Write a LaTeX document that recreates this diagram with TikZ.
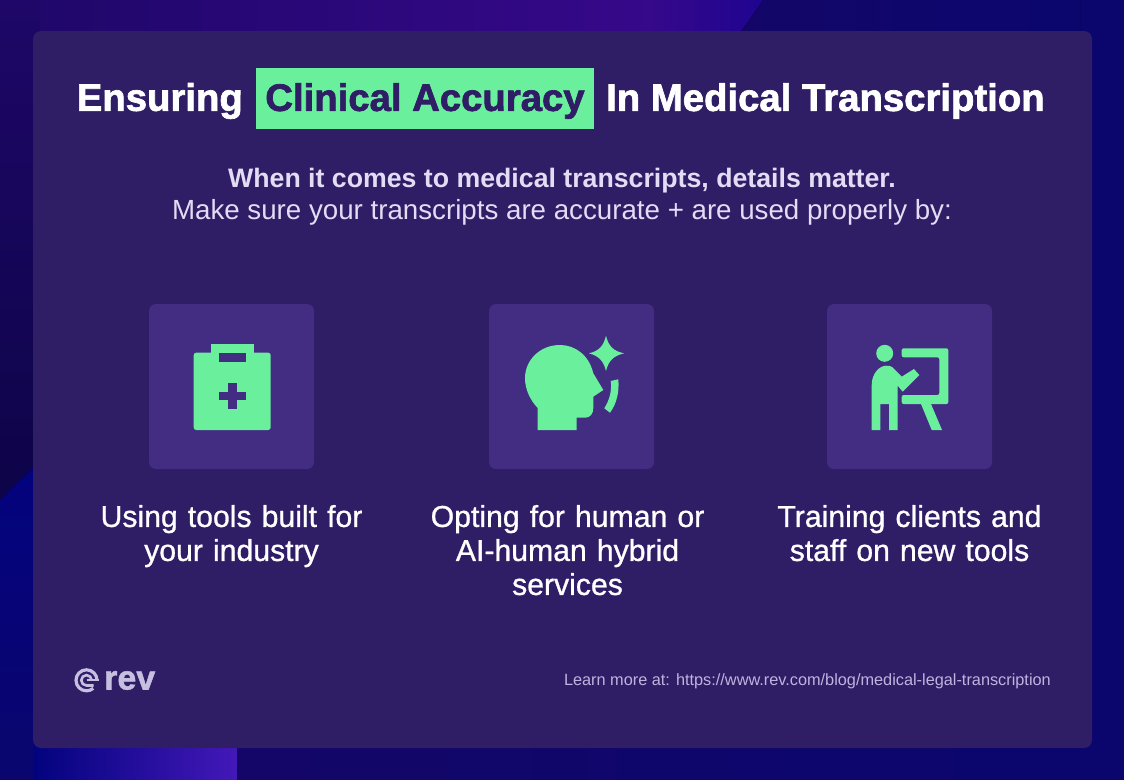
\documentclass[tikz,border=0pt]{standalone}
\usepackage{fontspec}
\setmainfont{Liberation Sans}
\setsansfont{Liberation Sans}
\usetikzlibrary{positioning, calc}
\definecolor{rev-navy}{RGB}{10,6,110}
\definecolor{rev-dark}{RGB}{13,4,72}
\definecolor{rev-plum}{RGB}{30,7,104}
\definecolor{rev-violet}{RGB}{54,8,138}
\definecolor{rev-indigo}{RGB}{30,4,145}
\definecolor{rev-deep}{RGB}{20,6,104}
\definecolor{rev-blue}{RGB}{3,3,126}
\definecolor{rev-bright}{RGB}{67,24,184}
\definecolor{rev-panel}{RGB}{47,29,102}
\definecolor{rev-tile}{RGB}{66,45,131}
\definecolor{rev-green}{RGB}{106,240,156}
\definecolor{rev-lilac}{RGB}{226,220,244}
\definecolor{rev-foot}{RGB}{190,180,222}
\begin{document}
\begin{tikzpicture}
    [x=1pt, y=-1pt,
    tile/.style = {rectangle, fill=rev-tile, rounded corners=7pt, minimum width=165pt, minimum height=165pt, inner sep=0pt},
    caption/.style = {align=center, text=white, font=\fontsize{30.2}{34}\selectfont\addfontfeatures{FakeBold=0.9}, text width=300pt, anchor=north},
    head/.style = {text=white, font=\fontsize{38.3}{40}\selectfont\bfseries\addfontfeatures{FakeBold=1.8}, inner sep=0pt},
    ink/.style = {fill=rev-green, draw=none},
    hole/.style = {fill=rev-tile, draw=none},
    logoline/.style = {draw=rev-lilac!85!rev-panel, line width=3.2pt},
    ]

\useasboundingbox (0,0) rectangle (1124,779);
% background
\fill[rev-navy] (-2,-2) rectangle (1126,781);
\fill[left color=rev-plum, right color=rev-violet] (-2,-2) rectangle (650,40);
\fill[left color=rev-violet, right color=rev-indigo] (650,-2) -- (765,-2) -- (735,40) -- (650,40) -- cycle;
\fill[left color=rev-deep, right color=rev-navy] (765,-2) -- (1080,-2) -- (1080,40) -- (735,40) -- cycle;
\fill[top color=rev-plum, bottom color=rev-dark] (-2,-2) rectangle (40,505);
\fill[top color=rev-blue, bottom color=rev-navy] (-2,502) -- (40,461) -- (40,781) -- (-2,781) -- cycle;
\fill[left color=rev-blue, right color=rev-bright] (33,740) rectangle (237,781);
\fill[left color=rev-deep, right color=rev-navy] (237,740) rectangle (1080,781);

% panel
\node[fill=rev-panel, rounded corners=8pt, minimum width=1059pt, minimum height=717pt, inner sep=0pt] (panel) at (562.5,389.5) {};

% title
\node[fill=rev-green, minimum width=338pt, minimum height=61pt, inner sep=0pt] (mark) at (425,98.5) {};
\node[head, text=rev-panel] (clinical) at (425,101) {Clinical Accuracy};
\node[head, anchor=east] (ensuring) at (243,101) {Ensuring};
\node[head, anchor=west] (rest) at (606,101) {In Medical Transcription};

% intro
\node[text=rev-lilac, font=\fontsize{26.7}{32}\selectfont\bfseries, inner sep=0pt] (lead) at (562,181) {When it comes to medical transcripts, details matter.};
\node[text=rev-lilac, font=\fontsize{27.7}{32}\selectfont, inner sep=0pt] (sub) at (562,212) {Make sure your transcripts are accurate + are used properly by:};

% tiles
\node[tile] (t1) at (231.5,386.5) {};
\node[tile] (t2) at (571.5,386.5) {};
\node[tile] (t3) at (909.5,386.5) {};

% clipboard
\fill[ink, rounded corners=2.5pt] (193.7,352.7) rectangle (270.7,430);
\fill[ink] (211,344) rectangle (254,354);
\fill[hole] (219.3,353.3) rectangle (245.7,361.7);
\fill[hole] (219.3,391.7) rectangle (245.7,400.3);
\fill[hole] (228,383) rectangle (236.7,408.7);

% head
\fill[ink] (537.7,430) -- (537.7,408) .. controls (530,400) and (525,389) .. (525,378.3)
    .. controls (525,360) and (540,345) .. (560,345)
    .. controls (575,345) and (589,355) .. (593.3,373.3)
    -- (603.3,390) -- (593.3,396.7) -- (593.3,408) .. controls (593.3,414) and (590,417.7) .. (585,417.7)
    -- (576.7,417.7) -- (576.7,430) -- cycle;
\fill[ink] (606,335.7) .. controls (608.5,346) and (613,351) .. (624,353.3)
    .. controls (613,356) and (608.5,361) .. (606,371)
    .. controls (603.5,361) and (599,356) .. (589,353.3)
    .. controls (599,351) and (603.5,346) .. (606,335.7) -- cycle;
\fill[ink] (618.3,379.3) .. controls (619.5,392) and (616.5,404) .. (610,412.7)
    -- (604.3,408.3) .. controls (609.5,400) and (612,391) .. (610.7,381) -- cycle;

% trainer
\fill[ink] (884.7,353.3) circle (8.5);
\fill[ink] (871.7,430) -- (871.7,385) .. controls (871.7,373) and (880,365.7) .. (886,365.7)
    .. controls (889,365.7) and (891,366) .. (892,367) -- (901.7,376.7) -- (914,369) -- (919.3,375)
    -- (902.7,391.7) -- (897.7,385.7) -- (897.7,430) -- (889,430) -- (889,404) -- (880.3,404) -- (880.3,430) -- cycle;
\fill[ink, rounded corners=2pt] (901.7,348.3) -- (948.3,348.3) -- (948.3,404) -- (901.7,404) -- (901.7,395) -- (939.3,395) -- (939.3,357.3) -- (901.7,357.3) -- cycle;
\fill[ink] (921,404) -- (931,404) -- (942,430) -- (931.7,430) -- cycle;

% captions
\node[caption] (c1) at (231.5,501.5) {Using tools built for\\your industry};
\node[caption] (c2) at (567.5,501.5) {Opting for human or\\AI-human hybrid\\services};
\node[caption] (c3) at (909.5,501.5) {Training clients and\\staff on new tools};

% footer
\node[text=rev-foot, font=\fontsize{16.3}{18}\selectfont, anchor=east, inner sep=0pt] (url) at (1051,681.5) {Learn more at: https://www.rev.com/blog/medical-legal-transcription};
\node[text=rev-lilac!85!rev-panel, font=\fontsize{34}{36}\selectfont\bfseries\addfontfeatures{FakeBold=1.5}, anchor=west, inner sep=0pt] (rev) at (104,680.5) {rev};
\coordinate (spiral) at (86.5,680.3);
\draw[logoline] ($(spiral)+(10.5,0)$) arc[start angle=0, end angle=-310, radius=10.5];
\draw[logoline, line width=2.6pt] ($(spiral)+(5.2,0)$) arc[start angle=0, end angle=-270, radius=5.2] -- +(7,0);
\draw[logoline, line width=2pt] (spiral) -- +(12,0);

\end{tikzpicture}
\end{document}
